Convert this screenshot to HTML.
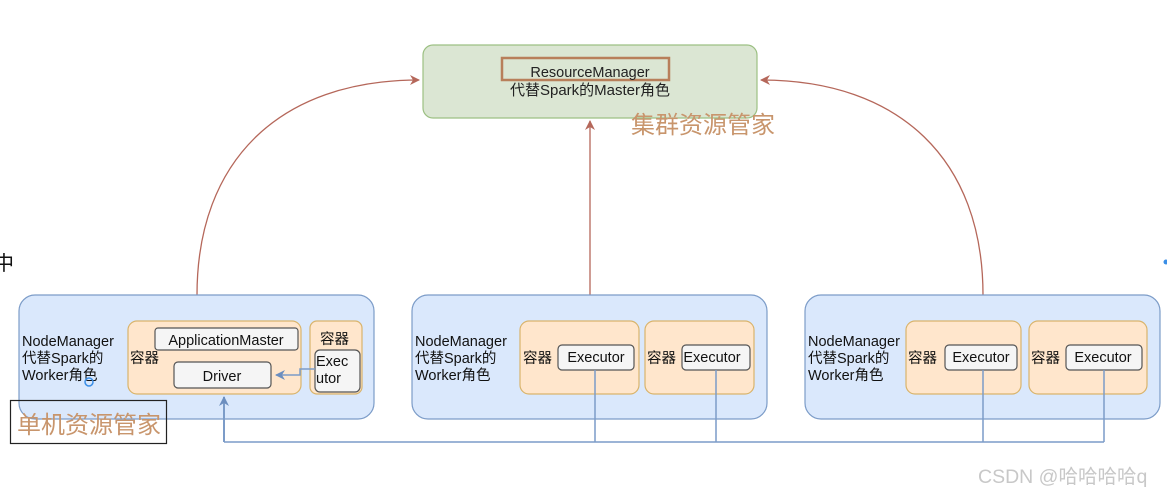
<!DOCTYPE html>
<html><head><meta charset="utf-8"><style>
html,body{margin:0;padding:0;background:#fff;}
svg{display:block;font-family:"Liberation Sans","Noto Sans CJK SC",sans-serif;}
</style></head><body>
<svg width="1167" height="496" viewBox="0 0 1167 496" xmlns="http://www.w3.org/2000/svg">
<defs>
<marker id="ar" markerWidth="10" markerHeight="10" refX="9" refY="5" orient="auto" markerUnits="userSpaceOnUse"><path d="M0,0 L10,5 L0,10 L3,5 z" fill="#b5675a"/></marker>
<marker id="ab" markerWidth="10" markerHeight="10" refX="9" refY="5" orient="auto" markerUnits="userSpaceOnUse"><path d="M0,0 L10,5 L0,10 L3,5 z" fill="#6c8ebf"/></marker>
</defs>
<rect width="1167" height="496" fill="#fff"/>
<rect x="423" y="45" width="334" height="73" rx="10" fill="#dbe6d3" stroke="#9cc083" stroke-width="1.2"/>
<rect x="502" y="58" width="167" height="22" fill="none" stroke="#b87f5a" stroke-width="2.5"/>
<text x="590" y="77" font-size="14.5" text-anchor="middle" fill="#222">ResourceManager</text>
<text x="590" y="95" font-size="15" text-anchor="middle" fill="#222">代替Spark的Master角色</text>
<text x="631" y="133" font-size="24" fill="#c8956c">集群资源管家</text>
<path d="M197,295 C197,160 280,80 419,80" fill="none" stroke="#b5675a" stroke-width="1.3" marker-end="url(#ar)"/>
<path d="M983,295 C983,160 900,80 761,80" fill="none" stroke="#b5675a" stroke-width="1.3" marker-end="url(#ar)"/>
<line x1="590" y1="295" x2="590" y2="121" stroke="#b5675a" stroke-width="1.3" marker-end="url(#ar)"/>
<g stroke="#7c9cc8" stroke-width="1.2" fill="#dae8fc">
<rect x="19" y="295" width="355" height="124" rx="16"/>
<rect x="412" y="295" width="355" height="124" rx="16"/>
<rect x="805" y="295" width="355" height="124" rx="16"/>
</g>
<g font-size="14.5" fill="#111">
<text x="22" y="346">NodeManager</text><text x="22" y="363">代替Spark的</text><text x="22" y="380">Worker角色</text>
<text x="415" y="346">NodeManager</text><text x="415" y="363">代替Spark的</text><text x="415" y="380">Worker角色</text>
<text x="808" y="346">NodeManager</text><text x="808" y="363">代替Spark的</text><text x="808" y="380">Worker角色</text>
</g>
<g stroke="#d9b46c" stroke-width="1.2" fill="#ffe6cc">
<rect x="128" y="321" width="173" height="73" rx="9"/>
<rect x="310" y="321" width="52" height="73" rx="7"/>
<rect x="520" y="321" width="119" height="73" rx="9"/>
<rect x="645" y="321" width="109" height="73" rx="9"/>
<rect x="906" y="321" width="115" height="73" rx="9"/>
<rect x="1029" y="321" width="118" height="73" rx="9"/>
</g>
<g font-size="14.5" fill="#111">
<text x="130" y="363">容器</text>
<text x="320" y="344">容器</text>
<text x="523" y="363">容器</text>
<text x="647" y="363">容器</text>
<text x="908" y="363">容器</text>
<text x="1031" y="363">容器</text>
</g>
<g stroke="#555" stroke-width="1.2" fill="#f5f5f5">
<rect x="155" y="328" width="143" height="22" rx="3"/>
<rect x="174" y="362" width="97" height="26" rx="4"/>
<rect x="315" y="350" width="45" height="42" rx="5"/>
<rect x="558" y="345" width="76" height="25" rx="4"/>
<rect x="682" y="345" width="68" height="25" rx="4"/>
<rect x="945" y="345" width="72" height="25" rx="4"/>
<rect x="1066" y="345" width="76" height="25" rx="4"/>
</g>
<g font-size="14.5" fill="#111">
<text x="226" y="345" text-anchor="middle">ApplicationMaster</text>
<text x="222" y="381" text-anchor="middle">Driver</text>
<text x="316" y="366">Exec</text><text x="316" y="383">utor</text>
<text x="596" y="362" text-anchor="middle">Executor</text>
<text x="712" y="362" text-anchor="middle">Executor</text>
<text x="981" y="362" text-anchor="middle">Executor</text>
<text x="1103" y="362" text-anchor="middle">Executor</text>
</g>
<g fill="none" stroke="#7c9cc8" stroke-width="1.5">
<path d="M315,369 H300 V375 H276" marker-end="url(#ab)"/>
<path d="M595,370 V442 M716,370 V442 M983,370 V442 M1104,370 V442 M1104,442 H224"/>
<path d="M224,442 V397" marker-end="url(#ab)" stroke-width="2"/>
</g>
<rect x="10.5" y="400.5" width="156" height="43" fill="none" stroke="#222" stroke-width="1.2"/>
<text x="17" y="433" font-size="24" fill="#c8956c">单机资源管家</text>
<circle cx="89" cy="382" r="4" fill="none" stroke="#3a8ee6" stroke-width="1.5"/>
<text x="-6" y="270" font-size="20" fill="#111">中</text>
<circle cx="1166" cy="262" r="2.5" fill="#3a8ee6"/>
<text x="978" y="483" font-size="19.5" fill="#c8c8c8">CSDN @哈哈哈哈q</text>
</svg>
</body></html>
